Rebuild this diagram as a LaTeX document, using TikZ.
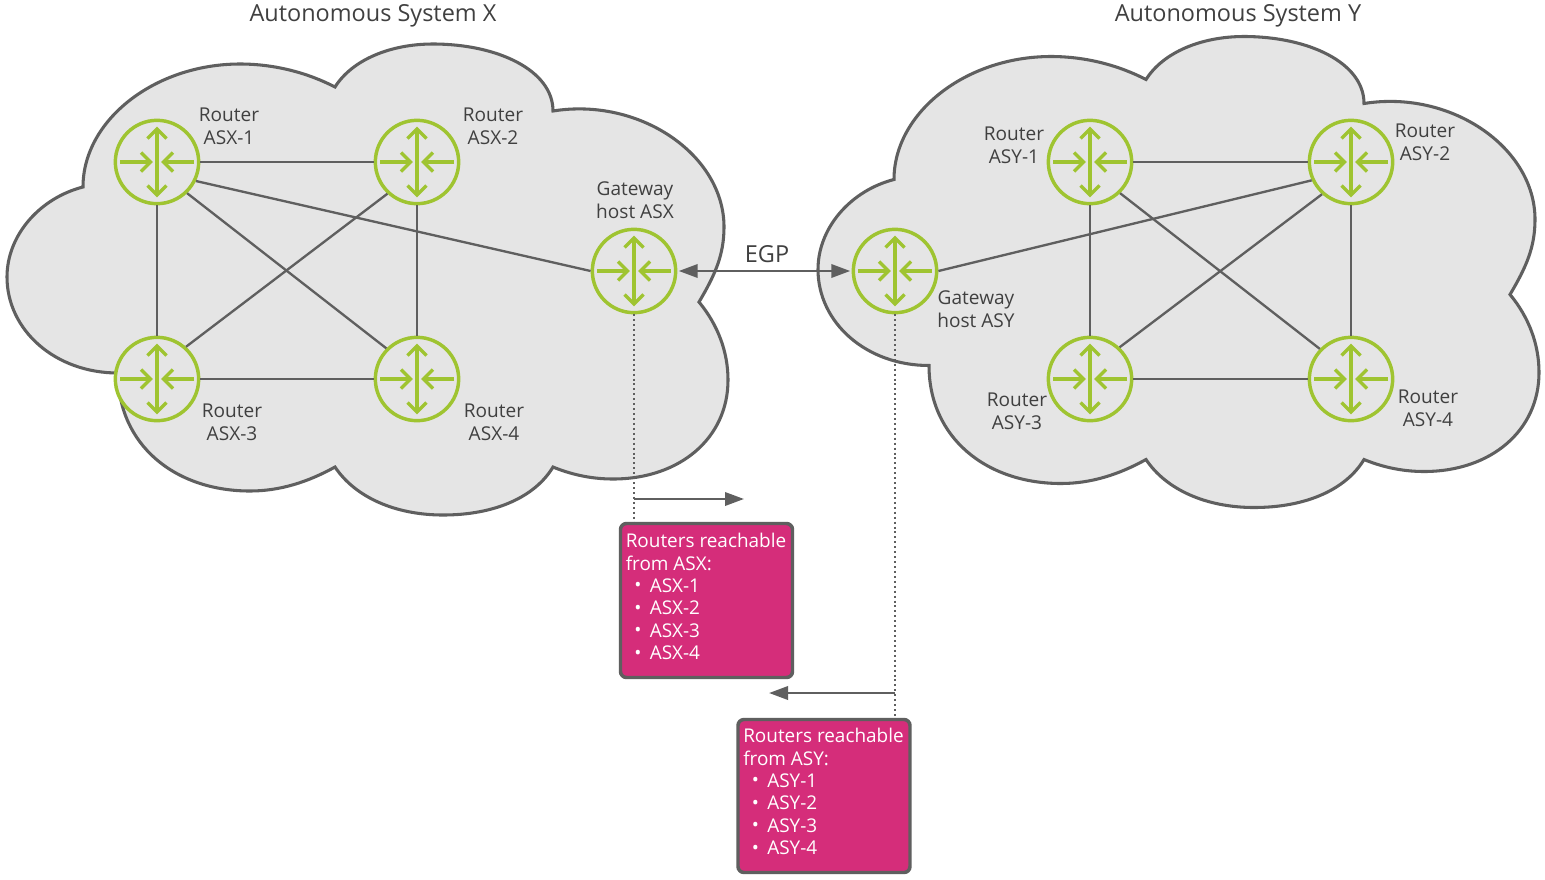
\documentclass[tikz,border=0pt]{standalone}
\usepackage{fontspec}
\setmainfont{Open Sans}
\usetikzlibrary{arrows.meta}
\definecolor{cloudfill}{HTML}{E5E5E5}
\definecolor{lnc}{HTML}{5F5F5F}
\definecolor{grn}{HTML}{9FC431}
\definecolor{pink}{HTML}{D52D7A}
\definecolor{txt}{HTML}{404040}
\newcommand\cloudshape{
  (83,187) .. controls (40,198) and (7,235) .. (7,277)
  .. controls (7,330) and (55,373) .. (118,373)
  .. controls (118,445) and (175,491) .. (250,491)
  .. controls (280,491) and (308,482) .. (335,467)
  .. controls (355,497) and (395,515) .. (443,515)
  .. controls (495,515) and (535,497) .. (553,467)
  .. controls (570,474) and (590,479) .. (613,479)
  .. controls (680,479) and (728,438) .. (728,380)
  .. controls (728,352) and (718,325) .. (699,302)
  .. controls (715,275) and (724,255) .. (724,227)
  .. controls (724,155) and (640,97) .. (553,111)
  .. controls (553,70) and (497,44) .. (433,44)
  .. controls (390,44) and (352,60) .. (335,87)
  .. controls (308,73) and (275,64) .. (240,64)
  .. controls (155,64) and (83,120) .. (83,187) -- cycle}
\newcommand\routernode[2]{%
  \node[routerc] (#1) at (#2) {};
  \begin{scope}[shift={(#1.center)},glyph]
    \draw (0,-33) -- (0,33);
    \draw (-9.5,-23.5) -- (0,-33) -- (9.5,-23.5);
    \draw (-9.5,23.5) -- (0,33) -- (9.5,23.5);
    \draw (-37,0) -- (-7.5,0);
    \draw (-16,-9.5) -- (-6.5,0) -- (-16,9.5);
    \draw (37,0) -- (7.5,0);
    \draw (16,-9.5) -- (6.5,0) -- (16,9.5);
  \end{scope}}
\tikzset{
  cloudst/.style={fill=cloudfill,draw=lnc,line width=2.3pt,line join=miter},
  routerc/.style={circle,draw=grn,fill=cloudfill,line width=2.6pt,minimum size=62.5pt,inner sep=0pt},
  glyph/.style={draw=grn,line width=2.5pt,line join=miter,line cap=butt},
  link/.style={draw=lnc,line width=1.75pt},
  label/.style={text=txt,align=center,inner sep=0pt,font=\fontsize{14.3}{17}\selectfont},
  title/.style={text=txt,align=center,inner sep=0pt,font=\fontsize{17.6}{20}\selectfont},
  tri/.style={-{Triangle[length=14.25pt,width=10pt]},draw=lnc,fill=lnc,line width=1.9pt},
  dotl/.style={draw=lnc,line width=1.1pt,dash pattern=on 1.5pt off 2.2pt},
  pinkbox/.style={rectangle,rounded corners=4.5pt,draw=lnc,fill=pink,line width=2.6pt,inner sep=0pt},
  pinktext/.style={anchor=north west,text=white,align=left,inner sep=0pt,font=\fontsize{14.2}{16.8}\selectfont},
}
\newcommand\bl[1]{\hspace*{6.5pt}\makebox[11.5pt][l]{\raisebox{0.4pt}{\textbullet}}#1}
\begin{document}
\begin{tikzpicture}[x=0.75pt,y=-0.75pt]
\useasboundingbox (0,0) rectangle (1545,879);
\fill[white] (0,0) rectangle (1545,879);
\path[cloudst] \cloudshape;
\begin{scope}[shift={(811,-7.5)}]
\path[cloudst] \cloudshape;
\end{scope}
\routernode{xa}{157,162}
\routernode{xb}{417,162}
\routernode{xc}{157,379}
\routernode{xd}{417,379}
\routernode{gx}{634,271}
\routernode{ya}{1090,162}
\routernode{yb}{1351,162}
\routernode{yc}{1090,379}
\routernode{yd}{1351,379}
\routernode{gy}{895,271}
\foreach \p in {x,y}{
  \draw[link] (\p a) -- (\p b);
  \draw[link] (\p c) -- (\p d);
  \draw[link] (\p a) -- (\p c);
  \draw[link] (\p b) -- (\p d);
}
\draw[link] (xa.-46) -- (xd.135);
\draw[link] (xb.227) -- (xc.48);
\draw[link] (ya.-46) -- (yd.136);
\draw[link] (yb.228) -- (yc.47);
\draw[link] (xa.-26) -- (gx.west);
\draw[link] (yb.205) -- (gy.east);
\draw[{Triangle[length=14.25pt,width=10pt]}-{Triangle[length=14.25pt,width=10pt]},draw=lnc,fill=lnc,line width=1.9pt,shorten <=1pt,shorten >=1pt] (gx.east) -- (gy.west);
\node[title] (egp) at (767,254) {EGP};
\node[title] (tx) at (373,16) {Autonomous System X};
\node[title] (ty) at (1238,16) {Autonomous System Y};
\node[label] (lxa) at (229,126) {Router\\ASX-1};
\node[label] (lxb) at (493,126) {Router\\ASX-2};
\node[label] (lxc) at (232,422) {Router\\ASX-3};
\node[label] (lxd) at (494,422) {Router\\ASX-4};
\node[label] (lgx) at (635,200) {Gateway\\host ASX};
\node[label] (lya) at (1014,145) {Router\\ASY-1};
\node[label] (lyb) at (1425,142) {Router\\ASY-2};
\node[label] (lyc) at (1017,411) {Router\\ASY-3};
\node[label] (lyd) at (1428,408) {Router\\ASY-4};
\node[label] (lgy) at (976,309) {Gateway\\host ASY};
\node[pinkbox,minimum width=129pt,minimum height=115.5pt] (bx) at (706.5,600.5) {};
\node[pinkbox,minimum width=129pt,minimum height=114.75pt] (by) at (824,796) {};
\node[pinktext] (px) at (625.5,533) {Routers reachable\\from ASX:\\\bl{ASX-1}\\\bl{ASX-2}\\\bl{ASX-3}\\\bl{ASX-4}};
\node[pinktext] (py) at (743,728) {Routers reachable\\from ASY:\\\bl{ASY-1}\\\bl{ASY-2}\\\bl{ASY-3}\\\bl{ASY-4}};
\draw[dotl] (gx.south) -- (gx.south |- bx.north);
\draw[dotl] (gy.south) -- (gy.south |- by.north);
\coordinate (ax0) at (gx.south |- 0,499);
\coordinate (ax1) at (744,499);
\coordinate (ay0) at (gy.south |- 0,693);
\coordinate (ay1) at (769,693);
\draw[tri] (ax0) -- (ax1);
\draw[tri] (ay0) -- (ay1);
\end{tikzpicture}
\end{document}
